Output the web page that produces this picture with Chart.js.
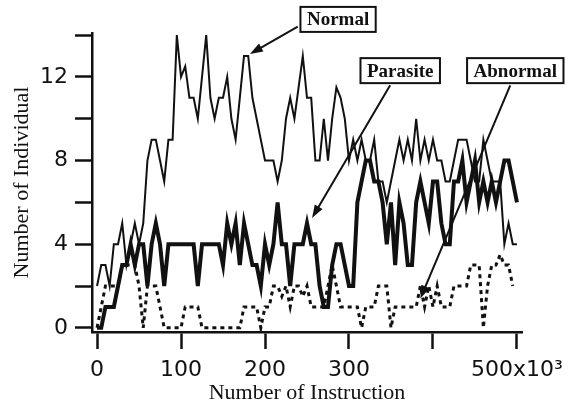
<!DOCTYPE html>
<html>
<head>
<meta charset="utf-8">
<script src="https://cdn.jsdelivr.net/npm/chart.js@4.4.1/dist/chart.umd.min.js"></script>
<style>
  html, body { margin: 0; padding: 0; background: #fff; }
  #wrap { width: 575px; height: 410px; }
</style>
</head>
<body>
<div id="wrap"><canvas id="popChart"></canvas></div>
<script>
// x = number of instructions (x10^3)
const instr = [0, 5, 10, 15, 20, 25, 30, 35, 40, 45, 50, 55, 60, 65, 70, 75, 80, 85, 90, 95,
  100, 105, 110, 115, 120, 125, 130, 135, 140, 145, 150, 155, 160, 165, 170, 175, 180, 185, 190, 195,
  200, 205, 210, 215, 220, 225, 230, 235, 240, 245, 250, 255, 260, 265, 270, 275, 280, 285, 290, 295,
  300, 305, 310, 315, 320, 325, 330, 335, 340, 345, 350, 355, 360, 365, 370, 375, 380, 385, 390, 395,
  400, 405, 410, 415, 420, 425, 430, 435, 440, 445, 450, 455, 460, 465, 470, 475, 480, 485, 490, 495, 500];

const normal = [2, 3, 3, 2, 4, 4, 5, 3, 4, 5, 4, 5, 8, 9, 9, 8, 7, 9, 9, 14,
  12, 12.5, 11, 11, 10, 12, 14, 11, 10, 11, 11, 12, 10, 9, 11, 13, 13, 11, 10, 9,
  8, 8, 8, 7, 8, 10, 11, 10, 11.5, 13, 11, 11, 8, 8, 10, 8, 10, 11.5, 11, 10,
  8, 9, 8, 9, 8, 8, 9, 7, 7, 6, 7, 8, 9, 8, 9, 8, 10, 8, 9, 8,
  9, 8, 8, 7, 7, 8, 9, 9, 9, 8, 7, 7, 9, 8, 7, 7, 7, 4, 5, 4, 4];

const parasite = [0, 0, 1, 1, 1, 2, 3, 3, 4, 3, 4, 4, 2, 4, 5, 4, 2, 4, 4, 4,
  4, 4, 4, 4, 2, 4, 4, 4, 4, 4, 3, 5, 4, 5, 3, 5, 4, 3, 3, 2,
  4, 3, 4, 6, 4, 4, 2, 4, 4, 4, 5, 4, 4, 2, 1, 1, 3, 4, 4, 3,
  2, 2, 6, 7, 8, 8, 7, 7, 6, 4, 6, 3, 6, 5, 3, 3, 6, 7, 6, 5,
  7, 7, 5, 4, 4, 7, 7, 8, 6, 7, 8, 6, 7, 6, 7, 6, 7, 8, 8, 7, 6];

const abnormal = [0, 1, 2, 2, 2, 2, 3, 3, 3, 3, 2, 0, 2, 2, 2, 1, 0, 0, 0, 0,
  0, 1, 1, 1, 1, 0, 0, 0, 0, 0, 0, 0, 0, 0, 0, 1, 1, 1, 1, 0,
  1, 1, 2, 2, 1.5, 2, 1, 2, 2, 1.5, 2, 1, 1, 1, 1, 2, 3, 2, 1, 1,
  1, 1, 1, 0, 1, 1, 1, 2, 2, 2, 0, 1, 1, 1, 1, 1, 1, 2, 1, 2,
  1, 2, 1, 1, 1, 2, 2, 2, 2, 3, 3, 3, 0, 2, 3, 3, 3.5, 3, 3, 2, null];

const xTicks = [0, 100, 200, 300, 400, 500];
const xTickLabels = ['0', '100', '200', '300', '', '500x10³'];
const yTicks = [0, 2, 4, 6, 8, 10, 12, 14];
const yTickLabels = ['0', '', '4', '', '8', '', '12', ''];

// callout boxes with arrows, in data units
const callouts = [
  { text: 'Normal',   x: 287, y: 14.75, fromX: 239, fromY: 14.4, toX: 182, toY: 13.1 },
  { text: 'Parasite', x: 361, y: 12.3,  fromX: 349, fromY: 11.6, toX: 256, toY: 5.25 },
  { text: 'Abnormal', x: 498, y: 12.3,  fromX: 492, fromY: 11.6, toX: 385, toY: 1.4 }
];

function toPoints(ys) {
  return instr.map((x, i) => ({ x: x, y: ys[i] }));
}

const calloutPlugin = {
  id: 'callouts',
  afterDraw(chart) {
    const ctx = chart.ctx;
    const xs = chart.scales.x, ys = chart.scales.y;
    ctx.save();
    callouts.forEach(c => {
      // arrow
      const x1 = xs.getPixelForValue(c.fromX), y1 = ys.getPixelForValue(c.fromY);
      const x2 = xs.getPixelForValue(c.toX), y2 = ys.getPixelForValue(c.toY);
      const ang = Math.atan2(y2 - y1, x2 - x1);
      const head = 13, half = 4.5;
      ctx.strokeStyle = '#111';
      ctx.fillStyle = '#111';
      ctx.lineWidth = 2;
      ctx.beginPath();
      ctx.moveTo(x1, y1);
      ctx.lineTo(x2 - Math.cos(ang) * head * 0.8, y2 - Math.sin(ang) * head * 0.8);
      ctx.stroke();
      ctx.beginPath();
      ctx.moveTo(x2, y2);
      ctx.lineTo(x2 - Math.cos(ang) * head - Math.sin(ang) * half, y2 - Math.sin(ang) * head + Math.cos(ang) * half);
      ctx.lineTo(x2 - Math.cos(ang) * head + Math.sin(ang) * half, y2 - Math.sin(ang) * head - Math.cos(ang) * half);
      ctx.closePath();
      ctx.fill();

      // box
      ctx.font = 'bold 19px "Liberation Serif", "DejaVu Serif", serif';
      const w = ctx.measureText(c.text).width + 13;
      const h = 25;
      const cx = xs.getPixelForValue(c.x), cy = ys.getPixelForValue(c.y);
      ctx.fillStyle = '#fff';
      ctx.fillRect(cx - w / 2, cy - h / 2, w, h);
      ctx.lineWidth = 2;
      ctx.strokeRect(cx - w / 2, cy - h / 2, w, h);
      ctx.fillStyle = '#111';
      ctx.textAlign = 'center';
      ctx.textBaseline = 'middle';
      ctx.fillText(c.text, cx, cy + 1);
    });
    ctx.restore();
  }
};

const tickFont = { family: '"DejaVu Sans", sans-serif', size: 22 };
const titleFont = { family: '"Liberation Serif", "DejaVu Serif", serif', size: 22 };

new Chart(document.getElementById('popChart'), {
  type: 'line',
  data: {
    datasets: [
      {
        label: 'Normal',
        data: toPoints(normal),
        borderColor: '#111',
        borderWidth: 2,
        pointRadius: 0,
        tension: 0
      },
      {
        label: 'Parasite',
        data: toPoints(parasite),
        borderColor: '#111',
        borderWidth: 4,
        pointRadius: 0,
        tension: 0
      },
      {
        label: 'Abnormal',
        data: toPoints(abnormal),
        borderColor: '#111',
        borderWidth: 3,
        borderDash: [4, 4],
        pointRadius: 0,
        tension: 0
      }
    ]
  },
  options: {
    responsive: true,
    maintainAspectRatio: false,
    animation: false,
    layout: {
      padding: { top: 33, right: 53, left: 0, bottom: 0 }
    },
    plugins: {
      legend: { display: false },
      tooltip: { enabled: false }
    },
    scales: {
      x: {
        type: 'linear',
        min: -6,
        max: 506,
        afterFit: function(scale) { scale.height = 78; },
        afterBuildTicks: function(scale) {
          scale.ticks = xTicks.map(v => ({ value: v }));
        },
        grid: {
          drawOnChartArea: false,
          drawTicks: true,
          tickLength: 17,
          tickWidth: 2.5,
          tickColor: '#111'
        },
        border: { display: true, color: '#111', width: 2.5 },
        ticks: {
          color: '#111',
          font: tickFont,
          padding: 8,
          maxRotation: 0,
          autoSkip: false,
          callback: function(value) {
            return xTickLabels[xTicks.indexOf(value)];
          }
        },
        title: {
          display: true,
          text: 'Number of Instruction',
          color: '#111',
          font: titleFont,
          padding: { top: 0, bottom: 4 }
        }
      },
      y: {
        min: -0.2,
        max: 14.1,
        afterFit: function(scale) { scale.width = 92; },
        afterBuildTicks: function(scale) {
          scale.ticks = yTicks.map(v => ({ value: v }));
        },
        grid: {
          drawOnChartArea: false,
          drawTicks: true,
          tickLength: 17,
          tickWidth: 2.5,
          tickColor: '#111'
        },
        border: { display: true, color: '#111', width: 2.5 },
        ticks: {
          color: '#111',
          font: tickFont,
          padding: 7,
          autoSkip: false,
          callback: function(value) {
            return yTickLabels[yTicks.indexOf(value)];
          }
        },
        title: {
          display: true,
          text: 'Number of Individual',
          color: '#111',
          font: titleFont,
          padding: { top: 9, bottom: 0 }
        }
      }
    }
  },
  plugins: [calloutPlugin]
});
</script>
</body>
</html>
